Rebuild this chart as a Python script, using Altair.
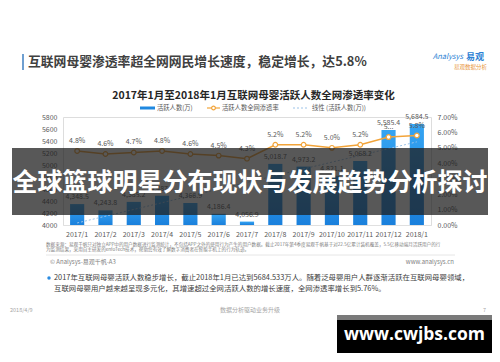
import altair as alt
import pandas as pd

# ---------------- data ----------------
months = ["2017/1", "2017/2", "2017/3", "2017/4", "2017/5", "2017/6", "2017/7",
          "2017/8", "2017/9", "2017/10", "2017/11", "2017/12", "2018/1"]
active_users = [4348.5, 4243.8, 4385.2, 4487.7, 4366.9, 4186.4, 4056.9,
                5018.7, 4973.2, 4821.1, 5068.2, 5585.4, 5684.5]
penetration = [0.048, 0.046, 0.047, 0.048, 0.046, 0.045, 0.043,
               0.052, 0.052, 0.050, 0.052, 0.057, 0.058]
pen_labels = ["4.8%", "4.6%", "4.7%", "4.8%", "4.6%", "4.5%", "4.3%",
              "5.2%", "5.2%", "5.0%", "5.2%", "5...", "5.8%"]
left_ticks = [4000, 4200, 4400, 4600, 4800, 5000, 5200, 5400, 5600, 5800]
right_ticks = [0.0, 0.01, 0.02, 0.03, 0.04, 0.05, 0.06, 0.07]

header_title = "互联网母婴渗透率超全网网民增长速度，稳定增长，达5.8%"
chart_title = "2017年1月至2018年1月互联网母婴活跃人数全网渗透率变化"
legend_items = ["活跃人数(万)", "活跃人数全网渗透率", "线性 (活跃人数(万))"]
banner_text = "全球篮球明星分布现状与发展趋势分析探讨"
source_lines = [
    "数据来源：易观千帆只对独立APP中的用户数据进行监测统计，不包括APP之外的使用行为产生的用户数据。截止2017年第4季度易观千帆基于对22.5亿累计装机覆盖，5.5亿移动端月活跃用户的行",
    "为监测结果，采用自主研发的enfoTech技术，帮助您有效了解数字消费者在智能手机上的行为轨迹。",
]
copyright_text = "© Analysys-易观千帆-A3"
site_text = "www.analysys.cn"
bullet_lines = [
    "2017年互联网母婴活跃人数稳步增长，截止2018年1月已达到5684.533万人。随着泛母婴用户人群逐渐活跃在互联网母婴领域，",
    "互联网母婴用户越来越呈现多元化，其增速超过全网活跃人数的增长速度，全网渗透率增长到5.76%。",
]
footer_date = "2018/4/9"
footer_center = "数据分析驱动业务升级"
footer_page = "7"
watermark = "www.cwjbs.com"

df = pd.DataFrame({"month": months, "users": active_users,
                   "pen": penetration, "pen_label": pen_labels})
one = pd.DataFrame({"k": [0]})

W, H = 368, 108
FONT = "Noto Sans CJK SC"
GRAY = "#595959"
ORANGE = "#f2a43a"

x_band_scale = alt.Scale(domain=months, paddingInner=0.5, paddingOuter=0.25)
x_axis = alt.X("month:N", sort=months, scale=x_band_scale,
               axis=alt.Axis(title=None, labelAngle=0, labelFontSize=7, labelColor=GRAY,
                             ticks=False, domainColor="#e0e0e0", labelPadding=5,
                             labelFont=FONT))
x_plain = alt.X("month:N", sort=months, scale=x_band_scale, axis=None)

users_scale = alt.Scale(domain=[4000, 5800], nice=False, zero=False)
pen_scale = alt.Scale(domain=[0, 0.07], nice=False)

bars = alt.Chart(df).mark_bar(
    clip=True,
    color=alt.Gradient(gradient="linear",
                       stops=[alt.GradientStop(color="#35a4f2", offset=0),
                              alt.GradientStop(color="#1a80dc", offset=1)],
                       x1=0, x2=0, y1=0, y2=1)
).encode(
    x=x_axis,
    y=alt.Y("users:Q", scale=users_scale,
            axis=alt.Axis(values=left_ticks, title=None, grid=False, domain=False, ticks=False,
                          labelFontSize=7, labelColor=GRAY, labelPadding=6, format="d",
                          labelFont=FONT)),
    y2=alt.Y2(datum=4000),
)

trend = alt.Chart(df).transform_window(idx="row_number()").transform_regression(
    "idx", "users"
).mark_line(color="#9cc3e8", strokeWidth=1, strokeDash=[2, 2]).encode(
    x=alt.X("idx:Q", scale=alt.Scale(domain=[0.5, 13.5], nice=False, zero=False), axis=None),
    y=alt.Y("users:Q", scale=users_scale, axis=None),
)

line = alt.Chart(df).mark_line(
    color=ORANGE, strokeWidth=1.5,
    point=alt.OverlayMarkDef(filled=True, fill="white", stroke=ORANGE, strokeWidth=1.2, size=22),
).encode(
    x=x_plain,
    y=alt.Y("pen:Q", scale=pen_scale,
            axis=alt.Axis(orient="right", values=right_ticks, format=".2%", title=None,
                          grid=False, domain=False, ticks=False, labelFontSize=7,
                          labelColor=GRAY, labelPadding=6, labelFont=FONT)),
)

bar_labels = alt.Chart(df).mark_text(dy=-7, fontSize=7, color=GRAY, font=FONT).encode(
    x=x_plain,
    y=alt.Y("users:Q", scale=users_scale, axis=None),
    text=alt.Text("users:Q", format=",.1f"),
)

pen_text = alt.Chart(df).mark_text(dy=-10, fontSize=7, color=GRAY, font=FONT).encode(
    x=x_plain,
    y=alt.Y("pen:Q", scale=pen_scale, axis=None),
    text="pen_label:N",
)


def txt(s, x, y, size, color=GRAY, weight="normal", align="left", font=FONT, **kw):
    return alt.Chart(one).mark_text(text=s, fontSize=size, color=color, fontWeight=weight,
                                    align=align, baseline="middle", font=font, **kw
                                    ).encode(x=alt.value(x), y=alt.value(y))


def rect(x, x2, y, y2, color, opacity=1.0):
    return alt.Chart(one).mark_rect(color=color, opacity=opacity).encode(
        x=alt.value(x), x2=alt.value(x2), y=alt.value(y), y2=alt.value(y2))


def hrule(x, x2, y, color, width=1.0, dash=None):
    kw = {"strokeDash": dash} if dash else {}
    return alt.Chart(one).mark_rule(color=color, strokeWidth=width, **kw).encode(
        x=alt.value(x), x2=alt.value(x2), y=alt.value(y))


def dot(x, y, size, fill, stroke=None):
    kw = {"stroke": stroke, "strokeWidth": 1.2} if stroke else {}
    return alt.Chart(one).mark_point(filled=True, fill=fill, size=size, opacity=1, **kw).encode(
        x=alt.value(x), y=alt.value(y))


decor_top = [
    rect(-41, -39, -63, -47, "#6f9fd0"),
    txt(header_title, -35, -55, 12.8, color="#404040", weight="bold"),
    txt("Analysys", 400, -60, 7.5, color="#2b7fd4", align="right", fontStyle="italic"),
    txt("易观", 403, -60, 9, color="#2b7fd4", weight="bold"),
    txt("易观数据分析", 424, -50, 5.5, color="#e8953a", align="right"),
    txt(chart_title, 190.5, -21, 10.5, color="#262626", weight="bold", align="center"),
    rect(77, 92, -10.5, -7.5, "#1f88e0"),
    txt(legend_items[0], 94, -9, 6.3),
    hrule(144, 157, -9, ORANGE, 1.2),
    dot(150.5, -9, 14, "white", ORANGE),
    txt(legend_items[1], 159, -9, 6.3),
    hrule(230, 246, -9, "#9cc3e8", 1, [2, 2]),
    txt(legend_items[2], 249, -9, 6.3),
    txt(source_lines[0], -17, 128, 4.6, color="#808080"),
    txt(source_lines[1], -17, 133, 4.6, color="#808080"),
    hrule(-17, 392, 138, "#e6e6e6"),
    txt(copyright_text, -13, 145, 6, color="#7f7f7f"),
    txt(site_text, 391, 145, 6, color="#7f7f7f", align="right"),
    dot(-14, 161, 12, "#2b8be0"),
    txt(bullet_lines[0], -9, 161, 7.4, color="#404040"),
    txt(bullet_lines[1], -9, 172, 7.4, color="#404040"),
    txt(footer_date, -53, 193, 5.5, color="#a6a6a6"),
    txt(footer_center, 187, 193, 6, color="#a6a6a6", align="center"),
    txt(footer_page, 423, 193, 5.5, color="#a6a6a6", align="right"),
]

overlay = [
    rect(-51, 425, 31, 98, "#1e1e1e", 0.74),
    txt(banner_text, 187, 65.5, 25, color="white", weight="bold", align="center"),
    rect(274, 429, 198, 203, "#7a7a7a"),
    rect(274, 429, 203, 236, "#000000"),
    txt(watermark, 351.5, 218, 17.5, color="white", weight="bold", align="center",
        font="Open Sans"),
]

chart = alt.layer(
    bars, trend, line, bar_labels, pen_text, *decor_top, *overlay
).resolve_scale(
    x="independent", y="independent"
).properties(
    width=W, height=H,
    padding={"left": 55, "top": 109, "right": 61, "bottom": 129},
    autosize=alt.AutoSizeParams(type="none"),
    background="white",
).configure_view(stroke=None).configure(font=FONT)

chart.save("out.html", embed_options={"renderer": "svg", "actions": False})
